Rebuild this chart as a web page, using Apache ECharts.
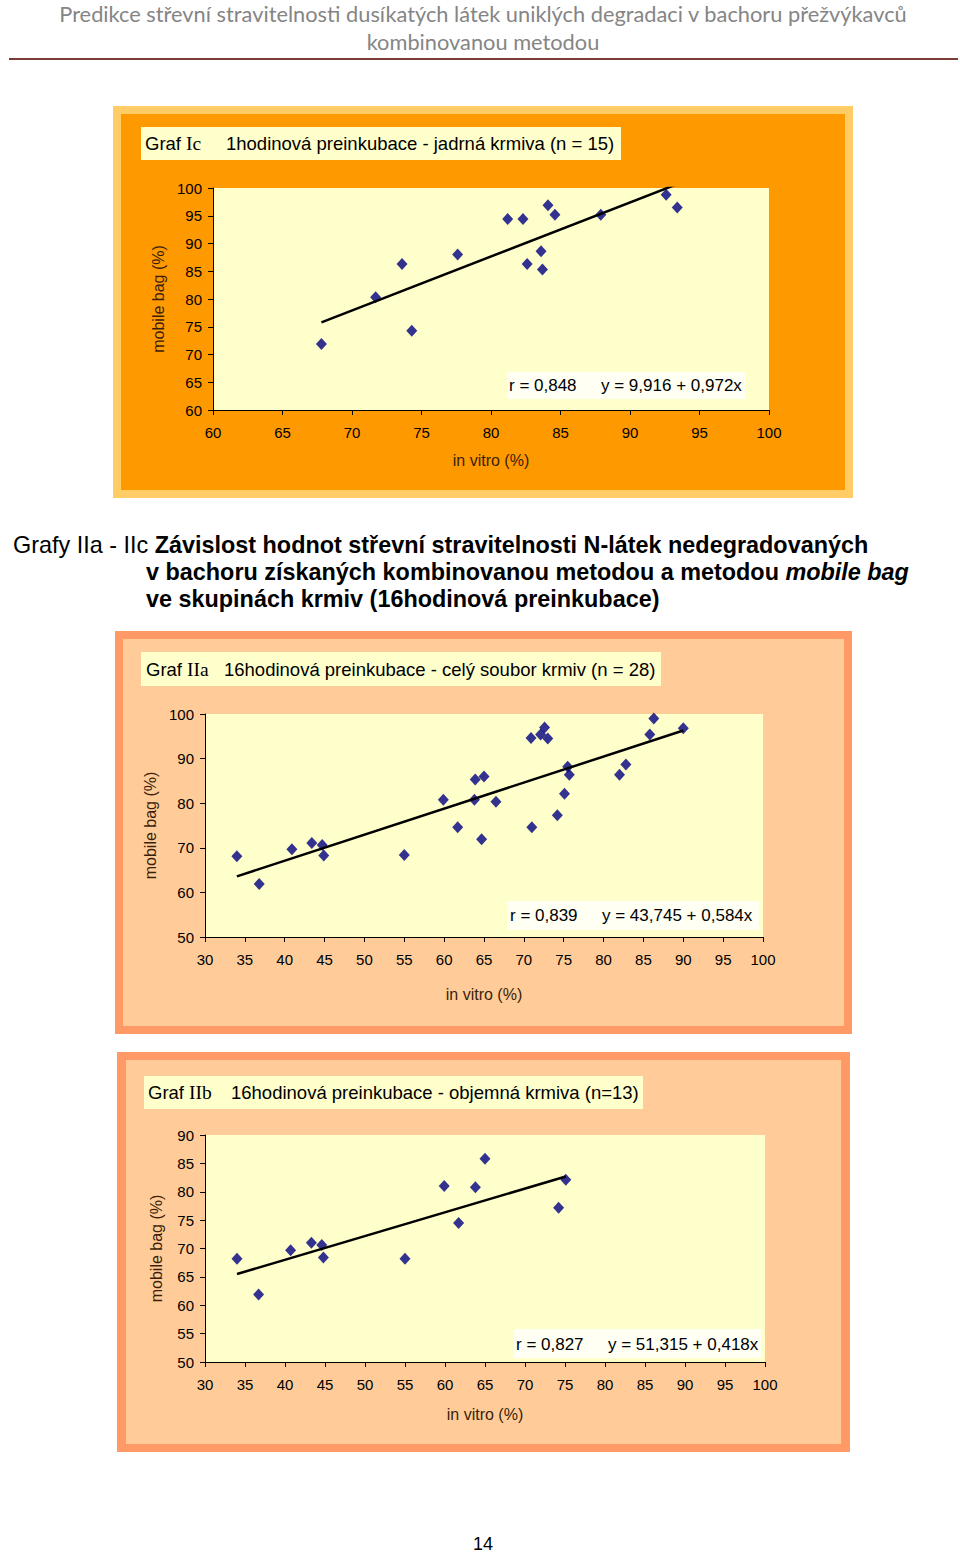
<!DOCTYPE html>
<html>
<head>
<meta charset="utf-8">
<script src="https://cdn.jsdelivr.net/npm/echarts@6/dist/echarts.min.js"></script>
<style>
  html, body { margin: 0; padding: 0; background: #fff; }
  #page { position: relative; width: 960px; height: 1556px; overflow: hidden; }
  #chart { position: absolute; left: 0; top: 0; width: 960px; height: 1556px; }
  .txt { position: absolute; z-index: 5; white-space: nowrap; }
  #hdr { left: 0; width: 966px; top: 0; text-align: center; font-family: Lato, 'Open Sans', sans-serif; font-size: 21.8px; line-height: 28px; color: #858585; }
  #hdrline { position: absolute; left: 9px; top: 58px; width: 949px; height: 2px; background: #7d3b36; z-index: 5; }
  .cap { font-family: 'Liberation Sans', Arial, sans-serif; font-size: 23.4px; color: #000; line-height: 27px; }
  #pn { left: 0; width: 966px; text-align: center; top: 1534px; font-family: 'Liberation Sans', Arial, sans-serif; font-size: 18px; color: #000; }
</style>
</head>
<body>
<div id="page">
  <div id="chart"></div>
  <div class="txt" id="hdr">Predikce střevní stravitelnosti dusíkatých látek uniklých degradaci v bachoru přežvýkavců<br>kombinovanou metodou</div>
  <div id="hdrline"></div>
  <div class="txt cap" style="left:13px; top:532px;">Grafy IIa - IIc <b>Závislost hodnot střevní stravitelnosti N-látek nedegradovaných</b></div>
  <div class="txt cap" style="left:146px; top:559px;"><b>v bachoru získaných kombinovanou metodou a metodou <i>mobile bag</i></b></div>
  <div class="txt cap" style="left:146px; top:586px;"><b>ve skupinách krmiv (16hodinová preinkubace)</b></div>
  <div class="txt" id="pn">14</div>
</div>
<script>
// ---- data ----
const icInVitro   = [67.8, 71.7, 73.6, 74.3, 77.6, 81.2, 82.3, 82.6, 83.6, 83.7, 84.1, 84.6, 87.9, 92.6, 93.4];
const icMobileBag = [71.9, 80.3, 86.3, 74.3, 88.0, 94.4, 94.4, 86.3, 88.6, 85.3, 96.9, 95.2, 95.2, 98.8, 96.5];
const icTrend     = [[67.8, 75.8], [93.4, 100.7]];

const iiaInVitro   = [34.0, 36.8, 40.9, 43.4, 44.7, 44.9, 55.0, 59.9, 61.7, 63.8, 63.9, 65.0, 64.7, 66.5, 70.9, 71.0, 72.1, 72.6, 73.0, 74.2, 75.1, 75.5, 75.7, 82.0, 82.8, 85.8, 86.3, 90.0];
const iiaMobileBag = [68.1, 61.9, 69.7, 71.1, 70.6, 68.3, 68.4, 80.8, 74.6, 80.8, 85.3, 86.0, 71.9, 80.3, 94.6, 74.6, 95.4, 97.0, 94.5, 77.3, 82.1, 88.2, 86.4, 86.4, 88.7, 95.4, 99.0, 96.8];
const iiaTrend     = [[34.0, 63.6], [90.0, 96.3]];

const iibInVitro   = [34.0, 36.7, 40.7, 43.3, 44.6, 44.8, 55.0, 59.9, 61.7, 63.8, 65.0, 74.2, 75.1];
const iibMobileBag = [68.2, 61.9, 69.7, 71.0, 70.6, 68.4, 68.2, 81.0, 74.5, 80.8, 85.8, 77.2, 82.1];
const iibTrend     = [[34.0, 65.5], [75.1, 82.7]];

const titles = [
  ['Ic', '1hodinová preinkubace - jadrná krmiva (n = 15)'],
  ['IIa', '16hodinová preinkubace - celý soubor krmiv (n = 28)'],
  ['IIb', '16hodinová preinkubace - objemná krmiva (n=13)']
];
const rTexts  = ['r = 0,848', 'r = 0,839', 'r = 0,827'];
const eqTexts = ['y = 9,916 + 0,972x', 'y = 43,745 + 0,584x', 'y = 51,315 + 0,418x'];
const xName = 'in vitro (%)';
const yName = 'mobile bag (%)';

// ---- layout ----
const FONT = "'Liberation Sans', Arial, sans-serif";
const panels = [
  { outer:[113,106,740,392], border:'#FFCC66', inner:[121,114,724,376], fill:'#FF9900',
    tbox:[141,127,480,33], tx1:145, tx2:226, ty:143,
    ebox:[507,372,238,27], rx:509, ex:601, ey:385,
    grid:{left:213, top:188, width:556, height:222}, xr:[60,100,5], yr:[60,100,5], xGap:42, yGap:45 },
  { outer:[115,631,737,403], border:'#FF9966', inner:[123,639,721,387], fill:'#FFCC99',
    tbox:[141,652,520,34], tx1:146, tx2:224, ty:669,
    ebox:[507,901,252,29], rx:510, ex:602, ey:915,
    grid:{left:205, top:714, width:558, height:223}, xr:[30,100,5], yr:[50,100,10], xGap:49, yGap:44 },
  { outer:[117,1052,733,400], border:'#FF9966', inner:[126,1060,715,384], fill:'#FFCC99',
    tbox:[144,1076,499,33], tx1:148, tx2:231, ty:1092,
    ebox:[514,1329,247,29], rx:516, ex:608, ey:1344,
    grid:{left:205, top:1135, width:560, height:227}, xr:[30,100,5], yr:[50,90,5], xGap:44, yGap:41 }
];

const pts = (xs, ys) => xs.map((v, i) => [v, ys[i]]);
const scatterData = [pts(icInVitro, icMobileBag), pts(iiaInVitro, iiaMobileBag), pts(iibInVitro, iibMobileBag)];
const trendData = [icTrend, iiaTrend, iibTrend];

const graphic = [];
panels.forEach((p, i) => {
  graphic.push({ type:'rect', z:-10, shape:{x:p.outer[0], y:p.outer[1], width:p.outer[2], height:p.outer[3]}, style:{fill:p.border} });
  graphic.push({ type:'rect', z:-9, shape:{x:p.inner[0], y:p.inner[1], width:p.inner[2], height:p.inner[3]}, style:{fill:p.fill} });
  graphic.push({ type:'rect', z:-8, shape:{x:p.tbox[0], y:p.tbox[1], width:p.tbox[2], height:p.tbox[3]}, style:{fill:'#FFFFCC'} });
  graphic.push({ type:'text', z:10, x:p.tx1, y:p.ty, style:{ text:'{a|Graf }{b|' + titles[i][0] + '}', verticalAlign:'middle',
      rich:{ a:{fontFamily:FONT, fontSize:18.5, fill:'#000'}, b:{fontFamily:"'Liberation Serif', 'Times New Roman', serif", fontSize:19.5, fill:'#000'} } } });
  graphic.push({ type:'text', z:10, x:p.tx2, y:p.ty, style:{ text:titles[i][1], fontFamily:FONT, fontSize:18.5, fill:'#000', verticalAlign:'middle' } });
  graphic.push({ type:'rect', z:20, shape:{x:p.ebox[0], y:p.ebox[1], width:p.ebox[2], height:p.ebox[3]}, style:{fill:'#FFFFF4'} });
  graphic.push({ type:'text', z:21, x:p.rx, y:p.ey, style:{ text:rTexts[i], fontFamily:FONT, fontSize:17, fill:'#000', verticalAlign:'middle' } });
  graphic.push({ type:'text', z:21, x:p.ex, y:p.ey, style:{ text:eqTexts[i], fontFamily:FONT, fontSize:17, fill:'#000', verticalAlign:'middle' } });
});

const axisBase = (r) => ({
  type:'value', min:r[0], max:r[1], interval:r[2],
  axisLine:{ show:true, onZero:false, lineStyle:{ color:'#000', width:1 } },
  axisTick:{ show:true, inside:false, length:5, lineStyle:{ color:'#000', width:1 } },
  axisLabel:{ color:'#000', fontFamily:FONT, fontSize:15 },
  splitLine:{ show:false },
  nameLocation:'middle',
  nameTextStyle:{ color:'#3b1e08', fontFamily:FONT, fontSize:16 }
});

const grids = [], xAxes = [], yAxes = [], series = [];
panels.forEach((p, i) => {
  grids.push(Object.assign({ show:true, backgroundColor:'#FFFFCC', borderWidth:0, containLabel:false }, p.grid));
  xAxes.push(Object.assign(axisBase(p.xr), { gridIndex:i, name:xName, nameGap:p.xGap,
    axisLabel:{ color:'#000', fontFamily:FONT, fontSize:15, margin:15 } }));
  yAxes.push(Object.assign(axisBase(p.yr), { gridIndex:i, name:yName, nameGap:p.yGap, nameRotate:90,
    axisLabel:{ color:'#000', fontFamily:FONT, fontSize:15, margin:11 } }));
  series.push({ type:'scatter', xAxisIndex:i, yAxisIndex:i, data:scatterData[i], symbol:'diamond', symbolSize:[11,12],
    itemStyle:{ color:'#000080' }, z:3, silent:true });
  series.push({ type:'line', xAxisIndex:i, yAxisIndex:i, data:trendData[i], symbol:'none', clip:true,
    lineStyle:{ color:'#000', width:2.5 }, z:4, silent:true });
});

const chart = echarts.init(document.getElementById('chart'), null, { renderer:'svg', width:960, height:1556 });
chart.setOption({
  animation:false,
  backgroundColor:'transparent',
  grid:grids, xAxis:xAxes, yAxis:yAxes, series:series, graphic:graphic
});
</script>
</body>
</html>
